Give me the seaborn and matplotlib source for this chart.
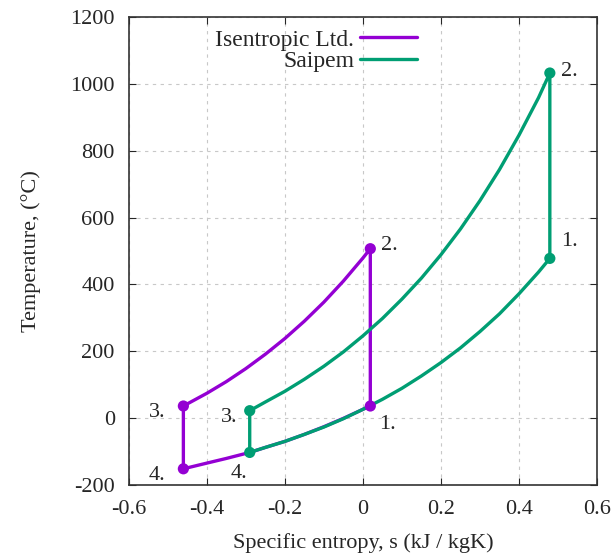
import numpy as np
import pandas as pd
import matplotlib
matplotlib.use("Agg")
import matplotlib.pyplot as plt
import seaborn as sns

# values
cycles = ["Isentropic Ltd.", "Saipem"]
colors = ["#9400d3", "#009e73"]

# Isentropic Ltd.: high pressure line (3 -> 2) and low pressure line (4 -> 1)
iso_s_hi = [-0.46, -0.40, -0.35, -0.30, -0.25, -0.20, -0.15, -0.10, -0.05, 0.0, 0.019]
iso_T_hi = [36, 74, 109, 148, 191, 238, 290, 347, 410, 479, 507]
iso_s_lo = [-0.46, -0.40, -0.35, -0.29, -0.25, -0.20, -0.15, -0.10, -0.05, 0.0, 0.019]
iso_T_lo = [-152, -135, -121, -103, -88, -70, -49, -26, -1, 26, 36]

# Saipem
sai_s_hi = [-0.29, -0.25, -0.20, -0.15, -0.10, -0.05, 0.0, 0.05, 0.10, 0.15,
            0.20, 0.25, 0.30, 0.35, 0.40, 0.45, 0.479]
sai_T_hi = [22, 48, 80, 116, 155, 198, 246, 298, 356, 419,
            489, 566, 651, 744, 847, 959, 1033]
sai_s_lo = [-0.29, -0.25, -0.20, -0.15, -0.10, -0.05, 0.0, 0.05, 0.10, 0.15,
            0.20, 0.25, 0.30, 0.35, 0.40, 0.45, 0.479]
sai_T_lo = [-103, -88, -70, -49, -27, -2, 26, 56, 89, 126,
            166, 210, 259, 312, 372, 437, 478]

# state points 1..4
iso_pts_s = [0.019, 0.019, -0.46, -0.46]
iso_pts_T = [36, 507, 36, -152]
sai_pts_s = [0.479, 0.479, -0.29, -0.29]
sai_pts_T = [478, 1033, 22, -103]
pt_labels = ["1.", "2.", "3.", "4."]

xticks = [-0.6, -0.4, -0.2, 0, 0.2, 0.4, 0.6]
xtick_labels = ["-0.6", "-0.4", "-0.2", "0", "0.2", "0.4", "0.6"]
yticks = [-200, 0, 200, 400, 600, 800, 1000, 1200]


def cycle_path(name, s_hi, T_hi, s_lo, T_lo):
    # hi line forward, down the turbine side, lo line back, then close
    s = list(s_hi) + list(s_lo[::-1]) + [s_hi[0]]
    T = list(T_hi) + list(T_lo[::-1]) + [T_hi[0]]
    return pd.DataFrame({"s": s, "T": T, "cycle": name, "order": range(len(s))})


paths = pd.concat([
    cycle_path(cycles[0], iso_s_hi, iso_T_hi, iso_s_lo, iso_T_lo),
    cycle_path(cycles[1], sai_s_hi, sai_T_hi, sai_s_lo, sai_T_lo),
])
points = pd.DataFrame({
    "s": iso_pts_s + sai_pts_s,
    "T": iso_pts_T + sai_pts_T,
    "cycle": [cycles[0]] * 4 + [cycles[1]] * 4,
    "label": pt_labels * 2,
})

sns.set_style("ticks")
plt.rcParams["font.family"] = ["Liberation Serif", "DejaVu Serif"]
plt.rcParams["axes.unicode_minus"] = False

fs = 16
fig = plt.figure(figsize=(6.13, 5.56), dpi=100)
ax = fig.add_axes([0.21, 0.128, 0.764, 0.841])

pal = dict(zip(cycles, colors))
sns.lineplot(data=paths, x="s", y="T", hue="cycle", palette=pal, sort=False,
             estimator=None, units="cycle", lw=2.4, ax=ax, legend=False)
sns.scatterplot(data=points, x="s", y="T", hue="cycle", palette=pal, s=65,
                edgecolor="none", ax=ax, legend=False, zorder=3)

# point annotations (offsets in points)
offsets = {
    (cycles[0], "1."): (6, -13), (cycles[0], "2."): (8, 2),
    (cycles[0], "3."): (-25, -5), (cycles[0], "4."): (-25, -5),
    (cycles[1], "1."): (8, 12), (cycles[1], "2."): (8, 1),
    (cycles[1], "3."): (-21, -5), (cycles[1], "4."): (-14, -15),
}
for _, r in points.iterrows():
    dx, dy = offsets[(r["cycle"], r["label"])]
    ax.annotate(r["label"], (r["s"], r["T"]), xytext=(dx, dy),
                textcoords="offset points", fontsize=fs, va="center")

ax.set_xlim(-0.6, 0.6)
ax.set_ylim(-200, 1200)
ax.set_xticks(xticks)
ax.set_xticklabels(xtick_labels)
ax.set_yticks(yticks)
ax.tick_params(direction="in", top=True, right=True, labelsize=fs, length=5)
ax.tick_params(axis="y", pad=10)
ax.tick_params(axis="x", pad=11)
ax.grid(True, color="#c8c8c8", linestyle=(0, (3, 4)), lw=0.8)
for sp in ax.spines.values():
    sp.set_linewidth(1.2)
    sp.set_color("#333333")

ax.set_xlabel("Specific entropy, s (kJ / kgK)", fontsize=fs, labelpad=10)
ax.set_ylabel("Temperature, (°C)", fontsize=fs, labelpad=21)

handles = [plt.Line2D([], [], color=c, lw=2.4) for c in colors]
ax.legend(handles, cycles, loc="upper right", bbox_to_anchor=(0.66, 1.02),
          frameon=False, markerfirst=False, fontsize=17, handlelength=2.4,
          labelspacing=0.0, handletextpad=0.25)

fig.savefig("out.png", dpi=100)
